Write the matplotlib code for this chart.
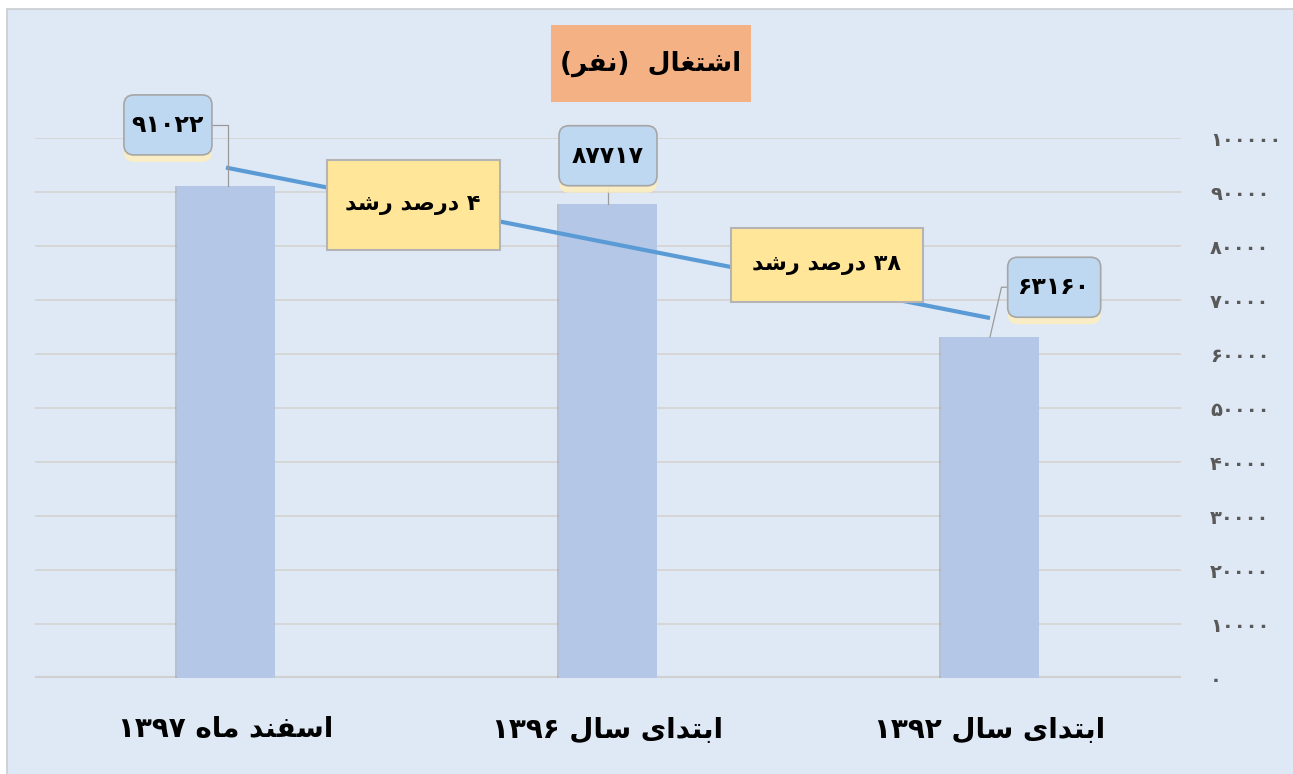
import matplotlib
matplotlib.use('Agg')
import matplotlib.pyplot as plt
import matplotlib.patheffects as pe
from matplotlib.patches import Rectangle, FancyBboxPatch
from matplotlib.transforms import ScaledTranslation
import numpy as np

plt.rcParams['font.family'] = ['DejaVu Sans']

# data
categories = ['اسفند ماه ۱۳۹۷', 'ابتدای سال ۱۳۹۶', 'ابتدای سال ۱۳۹۲']
values = [91022, 87717, 63160]
value_labels = ['۹۱۰۲۲', '۸۷۷۱۷', '۶۳۱۶۰']
growth_labels = ['۴ درصد رشد', '۳۸ درصد رشد']
title = 'اشتغال  (نفر)'
yticks = [0, 10000, 20000, 30000, 40000, 50000, 60000, 70000, 80000, 90000, 100000]

# simple persian shaping (matplotlib has no complex text layout)
FORMS = {
    'ا': ('\uFE8D', '\uFE8E', None, None),
    'ب': ('\uFE8F', '\uFE90', '\uFE91', '\uFE92'),
    'ت': ('\uFE95', '\uFE96', '\uFE97', '\uFE98'),
    'د': ('\uFEA9', '\uFEAA', None, None),
    'ر': ('\uFEAD', '\uFEAE', None, None),
    'س': ('\uFEB1', '\uFEB2', '\uFEB3', '\uFEB4'),
    'ش': ('\uFEB5', '\uFEB6', '\uFEB7', '\uFEB8'),
    'ص': ('\uFEB9', '\uFEBA', '\uFEBB', '\uFEBC'),
    'غ': ('\uFECD', '\uFECE', '\uFECF', '\uFED0'),
    'ف': ('\uFED1', '\uFED2', '\uFED3', '\uFED4'),
    'ل': ('\uFEDD', '\uFEDE', '\uFEDF', '\uFEE0'),
    'م': ('\uFEE1', '\uFEE2', '\uFEE3', '\uFEE4'),
    'ن': ('\uFEE5', '\uFEE6', '\uFEE7', '\uFEE8'),
    'ه': ('\uFEE9', '\uFEEA', '\uFEEB', '\uFEEC'),
    'ی': ('\uFBFC', '\uFBFD', '\uFBFE', '\uFBFF'),
}
MIRROR = {'(': ')', ')': '('}


def shape_word(w):
    out = []
    for i, ch in enumerate(w):
        if ch not in FORMS:
            out.append(ch)
            continue
        prev = w[i - 1] if i > 0 else ''
        nxt = w[i + 1] if i + 1 < len(w) else ''
        jp = prev in FORMS and FORMS[prev][2] is not None
        jn = nxt in FORMS and FORMS[ch][2] is not None
        iso, fin, ini, med = FORMS[ch]
        if jp and jn:
            out.append(med)
        elif jp:
            out.append(fin)
        elif jn:
            out.append(ini)
        else:
            out.append(iso)
    return out


def rtl(s):
    words = s.split(' ')
    vis = []
    for w in words:
        if any(c in FORMS for c in w):
            chars = shape_word(w)[::-1]
            vis.append(''.join(MIRROR.get(c, c) for c in chars))
        else:
            vis.append(w)
    return ' '.join(vis[::-1])


def fa_num(n):
    return str(n).translate(str.maketrans('0123456789', '۰۱۲۳۴۵۶۷۸۹'))


fig = plt.figure(figsize=(12.93, 7.74), dpi=100)
fig.patch.set_facecolor('white')
fig.patches.append(Rectangle((7 / 1293, -0.01), 1.0, 1 - 9 / 774 + 0.01, transform=fig.transFigure,
                             facecolor='#dfe9f5', edgecolor='#c9ccd1', linewidth=1.2, zorder=-5))

ax = fig.add_axes([35 / 1293, 1 - 678 / 774, (1181 - 35) / 1293, (678 - 138) / 774])
ax.set_facecolor('none')
x = np.arange(len(values))

ax.set_ylim(0, 100000)
ax.set_xlim(-0.5, 2.5)
ax.set_yticks(yticks)
ax.set_yticklabels([fa_num(t) for t in yticks])
ax.yaxis.tick_right()
ax.tick_params(axis='y', length=0, pad=21, labelsize=14, labelcolor='#595959')
for lab in ax.get_yticklabels():
    lab.set_fontweight('bold')
ax.set_xticks([])
for sp in ax.spines.values():
    sp.set_visible(False)

for t in yticks[1:]:
    ax.axhline(t, color='#d6d6d6', lw=1.4, zorder=1)
ax.axhline(0, color='#d0d0d0', lw=3, zorder=1)

bars = ax.bar(x, values, width=0.255, color='#b4c7e7', zorder=3)
for b in bars:
    b.set_path_effects([pe.SimplePatchShadow(offset=(-2, 0), shadow_rgbFace='#8c9bb3', alpha=0.5), pe.Normal()])

# decorative trend line from first to last bar
off = 3500
ax.plot([x[0], x[-1]], [values[0] + off, values[-1] + off], color='#5b9bd5', lw=3, zorder=4,
        solid_capstyle='butt')


def box_at(px, py, w, h, **kw):
    # box of fixed size (inches) centred on a data point
    tr = fig.dpi_scale_trans + ScaledTranslation(px, py, ax.transData)
    p = FancyBboxPatch((-w / 2, -h / 2), w, h, transform=tr, clip_on=False, **kw)
    ax.add_patch(p)
    return p


# leader lines
lead = dict(color='#9a9a9a', lw=0.9, zorder=4, clip_on=False)
ax.plot([x[0] - 0.04, x[0] + 0.005, x[0] + 0.005], [values[0] + 11400, values[0] + 11400, values[0]], **lead)
ax.plot([x[1], x[1]], [values[1] + 3000, values[1]], **lead)
ax.plot([x[2] + 0.05, x[2] + 0.03, x[2]], [values[2] + 9200, values[2] + 9200, values[2]], **lead)

# value boxes
box_pos = [(x[0] - 0.152, values[0] + 11400), (x[1], values[1] + 9000), (x[2] + 0.168, values[2] + 9200)]
box_w = [0.88, 0.98, 0.93]
for (bx, by), bw, lab in zip(box_pos, box_w, value_labels):
    box_at(bx, by, bw, 0.60, boxstyle='round,pad=0,rounding_size=0.1', facecolor='#bdd8f0',
           edgecolor='#a6a6a6', linewidth=1.2, zorder=6,
           path_effects=[pe.SimplePatchShadow(offset=(0, -5), shadow_rgbFace='#fbeec0', alpha=0.9),
                         pe.Normal()])
    ax.text(bx, by, lab, ha='center', va='center', fontsize=17, fontweight='bold', color='black',
            zorder=7, clip_on=False)

# growth boxes
g_pos = [(0.49, 87600), (1.572, 76500)]
g_size = [(1.73, 0.90), (1.92, 0.74)]
for (gx, gy), (gw, gh), lab in zip(g_pos, g_size, growth_labels):
    box_at(gx, gy, gw, gh, boxstyle='square,pad=0', facecolor='#ffe699', edgecolor='#b4b4b4',
           linewidth=1.5, zorder=7)
    ax.text(gx, gy, rtl(lab), ha='center', va='center', fontsize=16, fontweight='bold', color='black',
            zorder=8)

# category labels
for xi, cat in zip(x, categories):
    ax.text(xi, -9500, rtl(cat), ha='center', va='center', fontsize=20, fontweight='bold',
            color='black', clip_on=False)

# title
fig.patches.append(Rectangle((551 / 1293, 1 - 102 / 774), 200 / 1293, 77 / 774, transform=fig.transFigure,
                             facecolor='#f4b183', edgecolor='none', zorder=1))
fig.text(651 / 1293, 1 - 64 / 774, rtl(title), ha='center', va='center', fontsize=19, fontweight='bold',
         color='black', zorder=2)

fig.savefig('out.png', dpi=100)
